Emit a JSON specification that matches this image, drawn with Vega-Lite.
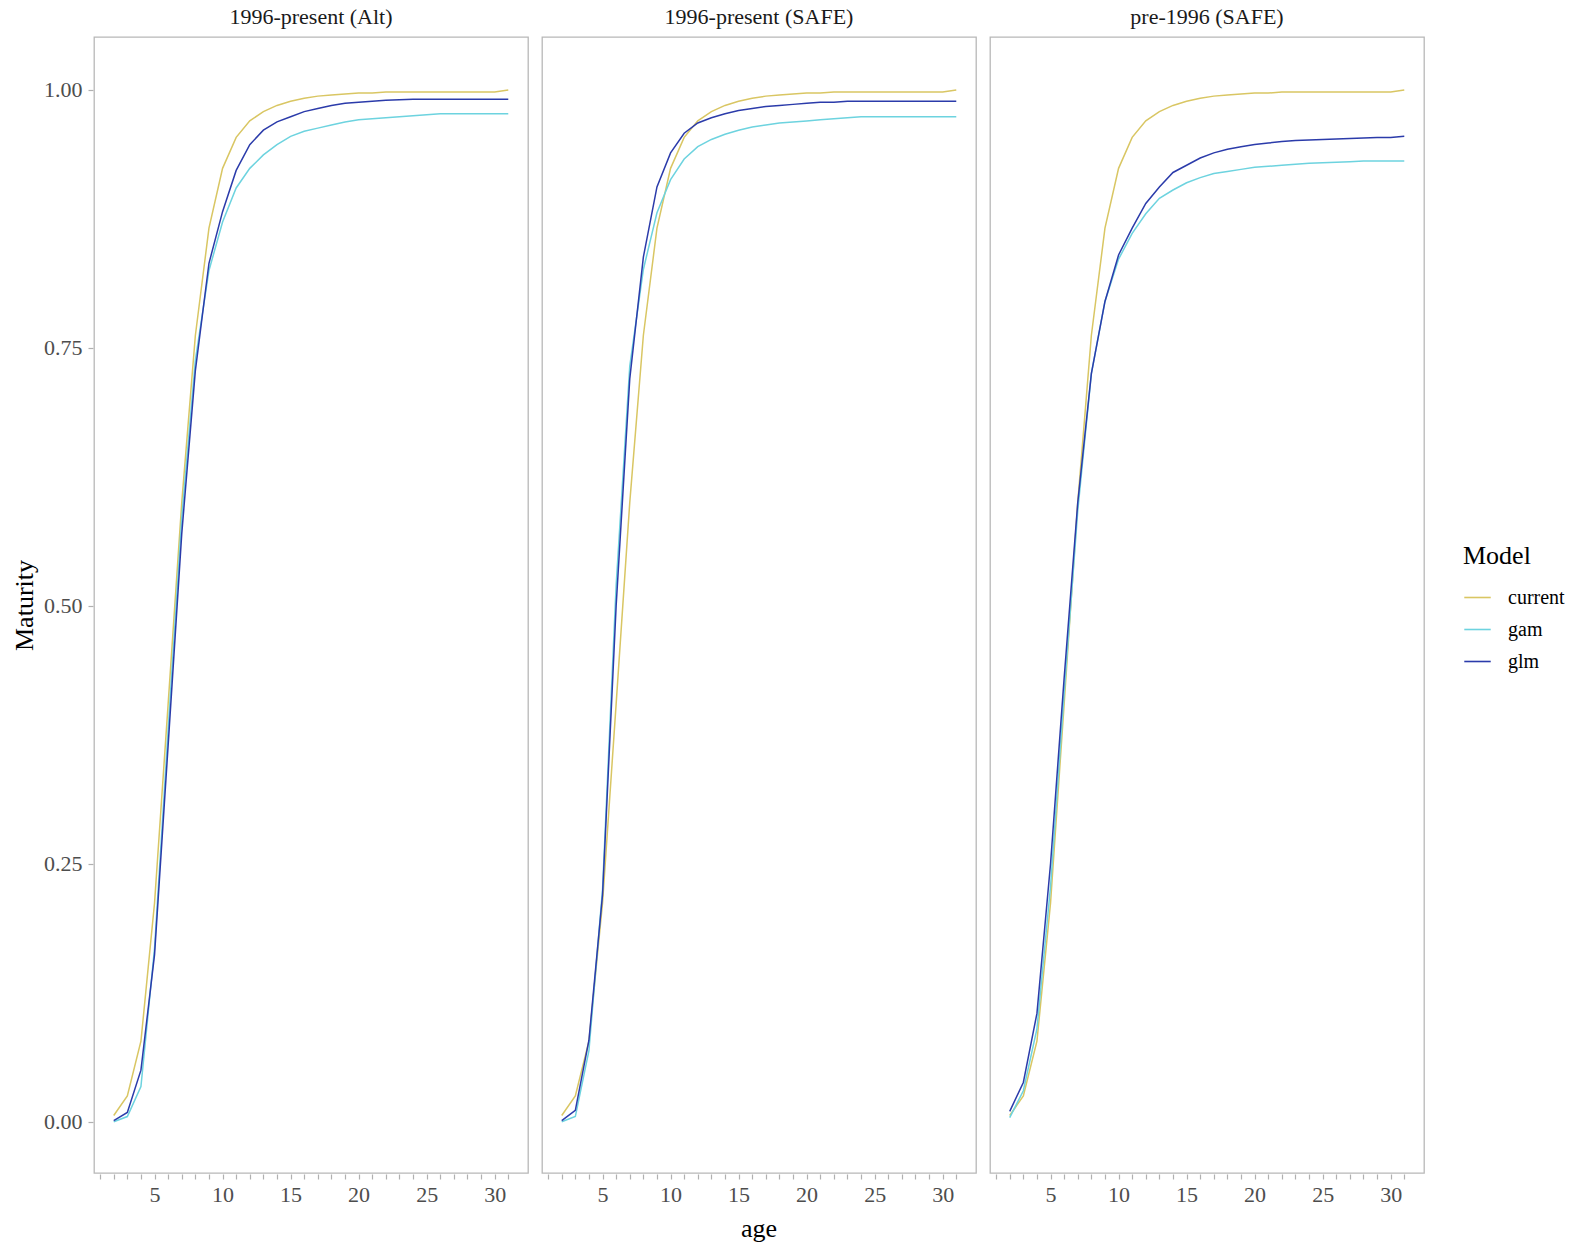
{
  "$schema": "https://vega.github.io/schema/vega-lite/v6.json",
  "background": "white",
  "padding": {"left": 11, "top": 6, "right": 5, "bottom": 5},
  "datasets": {
    "curves": [
      {"panel":"1996-present (Alt)","Model":"current","age":2,"Maturity":0.006},
      {"panel":"1996-present (Alt)","Model":"current","age":3,"Maturity":0.025},
      {"panel":"1996-present (Alt)","Model":"current","age":4,"Maturity":0.078},
      {"panel":"1996-present (Alt)","Model":"current","age":5,"Maturity":0.212},
      {"panel":"1996-present (Alt)","Model":"current","age":6,"Maturity":0.405},
      {"panel":"1996-present (Alt)","Model":"current","age":7,"Maturity":0.6},
      {"panel":"1996-present (Alt)","Model":"current","age":8,"Maturity":0.762},
      {"panel":"1996-present (Alt)","Model":"current","age":9,"Maturity":0.866},
      {"panel":"1996-present (Alt)","Model":"current","age":10,"Maturity":0.924},
      {"panel":"1996-present (Alt)","Model":"current","age":11,"Maturity":0.954},
      {"panel":"1996-present (Alt)","Model":"current","age":12,"Maturity":0.97},
      {"panel":"1996-present (Alt)","Model":"current","age":13,"Maturity":0.979},
      {"panel":"1996-present (Alt)","Model":"current","age":14,"Maturity":0.985},
      {"panel":"1996-present (Alt)","Model":"current","age":15,"Maturity":0.989},
      {"panel":"1996-present (Alt)","Model":"current","age":16,"Maturity":0.992},
      {"panel":"1996-present (Alt)","Model":"current","age":17,"Maturity":0.994},
      {"panel":"1996-present (Alt)","Model":"current","age":18,"Maturity":0.995},
      {"panel":"1996-present (Alt)","Model":"current","age":19,"Maturity":0.996},
      {"panel":"1996-present (Alt)","Model":"current","age":20,"Maturity":0.997},
      {"panel":"1996-present (Alt)","Model":"current","age":21,"Maturity":0.997},
      {"panel":"1996-present (Alt)","Model":"current","age":22,"Maturity":0.998},
      {"panel":"1996-present (Alt)","Model":"current","age":23,"Maturity":0.998},
      {"panel":"1996-present (Alt)","Model":"current","age":24,"Maturity":0.998},
      {"panel":"1996-present (Alt)","Model":"current","age":25,"Maturity":0.998},
      {"panel":"1996-present (Alt)","Model":"current","age":26,"Maturity":0.998},
      {"panel":"1996-present (Alt)","Model":"current","age":27,"Maturity":0.998},
      {"panel":"1996-present (Alt)","Model":"current","age":28,"Maturity":0.998},
      {"panel":"1996-present (Alt)","Model":"current","age":29,"Maturity":0.998},
      {"panel":"1996-present (Alt)","Model":"current","age":30,"Maturity":0.998},
      {"panel":"1996-present (Alt)","Model":"current","age":31,"Maturity":1.0},
      {"panel":"1996-present (Alt)","Model":"gam","age":2,"Maturity":0.0},
      {"panel":"1996-present (Alt)","Model":"gam","age":3,"Maturity":0.005},
      {"panel":"1996-present (Alt)","Model":"gam","age":4,"Maturity":0.034},
      {"panel":"1996-present (Alt)","Model":"gam","age":5,"Maturity":0.168},
      {"panel":"1996-present (Alt)","Model":"gam","age":6,"Maturity":0.38},
      {"panel":"1996-present (Alt)","Model":"gam","age":7,"Maturity":0.585},
      {"panel":"1996-present (Alt)","Model":"gam","age":8,"Maturity":0.738},
      {"panel":"1996-present (Alt)","Model":"gam","age":9,"Maturity":0.825},
      {"panel":"1996-present (Alt)","Model":"gam","age":10,"Maturity":0.872},
      {"panel":"1996-present (Alt)","Model":"gam","age":11,"Maturity":0.905},
      {"panel":"1996-present (Alt)","Model":"gam","age":12,"Maturity":0.924},
      {"panel":"1996-present (Alt)","Model":"gam","age":13,"Maturity":0.937},
      {"panel":"1996-present (Alt)","Model":"gam","age":14,"Maturity":0.947},
      {"panel":"1996-present (Alt)","Model":"gam","age":15,"Maturity":0.955},
      {"panel":"1996-present (Alt)","Model":"gam","age":16,"Maturity":0.96},
      {"panel":"1996-present (Alt)","Model":"gam","age":17,"Maturity":0.963},
      {"panel":"1996-present (Alt)","Model":"gam","age":18,"Maturity":0.966},
      {"panel":"1996-present (Alt)","Model":"gam","age":19,"Maturity":0.969},
      {"panel":"1996-present (Alt)","Model":"gam","age":20,"Maturity":0.971},
      {"panel":"1996-present (Alt)","Model":"gam","age":21,"Maturity":0.972},
      {"panel":"1996-present (Alt)","Model":"gam","age":22,"Maturity":0.973},
      {"panel":"1996-present (Alt)","Model":"gam","age":23,"Maturity":0.974},
      {"panel":"1996-present (Alt)","Model":"gam","age":24,"Maturity":0.975},
      {"panel":"1996-present (Alt)","Model":"gam","age":25,"Maturity":0.976},
      {"panel":"1996-present (Alt)","Model":"gam","age":26,"Maturity":0.977},
      {"panel":"1996-present (Alt)","Model":"gam","age":27,"Maturity":0.977},
      {"panel":"1996-present (Alt)","Model":"gam","age":28,"Maturity":0.977},
      {"panel":"1996-present (Alt)","Model":"gam","age":29,"Maturity":0.977},
      {"panel":"1996-present (Alt)","Model":"gam","age":30,"Maturity":0.977},
      {"panel":"1996-present (Alt)","Model":"gam","age":31,"Maturity":0.977},
      {"panel":"1996-present (Alt)","Model":"glm","age":2,"Maturity":0.001},
      {"panel":"1996-present (Alt)","Model":"glm","age":3,"Maturity":0.009},
      {"panel":"1996-present (Alt)","Model":"glm","age":4,"Maturity":0.05},
      {"panel":"1996-present (Alt)","Model":"glm","age":5,"Maturity":0.162},
      {"panel":"1996-present (Alt)","Model":"glm","age":6,"Maturity":0.365},
      {"panel":"1996-present (Alt)","Model":"glm","age":7,"Maturity":0.57},
      {"panel":"1996-present (Alt)","Model":"glm","age":8,"Maturity":0.728},
      {"panel":"1996-present (Alt)","Model":"glm","age":9,"Maturity":0.832},
      {"panel":"1996-present (Alt)","Model":"glm","age":10,"Maturity":0.882},
      {"panel":"1996-present (Alt)","Model":"glm","age":11,"Maturity":0.922},
      {"panel":"1996-present (Alt)","Model":"glm","age":12,"Maturity":0.947},
      {"panel":"1996-present (Alt)","Model":"glm","age":13,"Maturity":0.961},
      {"panel":"1996-present (Alt)","Model":"glm","age":14,"Maturity":0.969},
      {"panel":"1996-present (Alt)","Model":"glm","age":15,"Maturity":0.974},
      {"panel":"1996-present (Alt)","Model":"glm","age":16,"Maturity":0.979},
      {"panel":"1996-present (Alt)","Model":"glm","age":17,"Maturity":0.982},
      {"panel":"1996-present (Alt)","Model":"glm","age":18,"Maturity":0.985},
      {"panel":"1996-present (Alt)","Model":"glm","age":19,"Maturity":0.987},
      {"panel":"1996-present (Alt)","Model":"glm","age":20,"Maturity":0.988},
      {"panel":"1996-present (Alt)","Model":"glm","age":21,"Maturity":0.989},
      {"panel":"1996-present (Alt)","Model":"glm","age":22,"Maturity":0.99},
      {"panel":"1996-present (Alt)","Model":"glm","age":23,"Maturity":0.9905},
      {"panel":"1996-present (Alt)","Model":"glm","age":24,"Maturity":0.991},
      {"panel":"1996-present (Alt)","Model":"glm","age":25,"Maturity":0.991},
      {"panel":"1996-present (Alt)","Model":"glm","age":26,"Maturity":0.991},
      {"panel":"1996-present (Alt)","Model":"glm","age":27,"Maturity":0.991},
      {"panel":"1996-present (Alt)","Model":"glm","age":28,"Maturity":0.991},
      {"panel":"1996-present (Alt)","Model":"glm","age":29,"Maturity":0.991},
      {"panel":"1996-present (Alt)","Model":"glm","age":30,"Maturity":0.991},
      {"panel":"1996-present (Alt)","Model":"glm","age":31,"Maturity":0.991},
      {"panel":"1996-present (SAFE)","Model":"current","age":2,"Maturity":0.006},
      {"panel":"1996-present (SAFE)","Model":"current","age":3,"Maturity":0.025},
      {"panel":"1996-present (SAFE)","Model":"current","age":4,"Maturity":0.078},
      {"panel":"1996-present (SAFE)","Model":"current","age":5,"Maturity":0.212},
      {"panel":"1996-present (SAFE)","Model":"current","age":6,"Maturity":0.405},
      {"panel":"1996-present (SAFE)","Model":"current","age":7,"Maturity":0.6},
      {"panel":"1996-present (SAFE)","Model":"current","age":8,"Maturity":0.762},
      {"panel":"1996-present (SAFE)","Model":"current","age":9,"Maturity":0.866},
      {"panel":"1996-present (SAFE)","Model":"current","age":10,"Maturity":0.924},
      {"panel":"1996-present (SAFE)","Model":"current","age":11,"Maturity":0.954},
      {"panel":"1996-present (SAFE)","Model":"current","age":12,"Maturity":0.97},
      {"panel":"1996-present (SAFE)","Model":"current","age":13,"Maturity":0.979},
      {"panel":"1996-present (SAFE)","Model":"current","age":14,"Maturity":0.985},
      {"panel":"1996-present (SAFE)","Model":"current","age":15,"Maturity":0.989},
      {"panel":"1996-present (SAFE)","Model":"current","age":16,"Maturity":0.992},
      {"panel":"1996-present (SAFE)","Model":"current","age":17,"Maturity":0.994},
      {"panel":"1996-present (SAFE)","Model":"current","age":18,"Maturity":0.995},
      {"panel":"1996-present (SAFE)","Model":"current","age":19,"Maturity":0.996},
      {"panel":"1996-present (SAFE)","Model":"current","age":20,"Maturity":0.997},
      {"panel":"1996-present (SAFE)","Model":"current","age":21,"Maturity":0.997},
      {"panel":"1996-present (SAFE)","Model":"current","age":22,"Maturity":0.998},
      {"panel":"1996-present (SAFE)","Model":"current","age":23,"Maturity":0.998},
      {"panel":"1996-present (SAFE)","Model":"current","age":24,"Maturity":0.998},
      {"panel":"1996-present (SAFE)","Model":"current","age":25,"Maturity":0.998},
      {"panel":"1996-present (SAFE)","Model":"current","age":26,"Maturity":0.998},
      {"panel":"1996-present (SAFE)","Model":"current","age":27,"Maturity":0.998},
      {"panel":"1996-present (SAFE)","Model":"current","age":28,"Maturity":0.998},
      {"panel":"1996-present (SAFE)","Model":"current","age":29,"Maturity":0.998},
      {"panel":"1996-present (SAFE)","Model":"current","age":30,"Maturity":0.998},
      {"panel":"1996-present (SAFE)","Model":"current","age":31,"Maturity":1.0},
      {"panel":"1996-present (SAFE)","Model":"gam","age":2,"Maturity":0.0},
      {"panel":"1996-present (SAFE)","Model":"gam","age":3,"Maturity":0.005},
      {"panel":"1996-present (SAFE)","Model":"gam","age":4,"Maturity":0.069},
      {"panel":"1996-present (SAFE)","Model":"gam","age":5,"Maturity":0.225},
      {"panel":"1996-present (SAFE)","Model":"gam","age":6,"Maturity":0.52},
      {"panel":"1996-present (SAFE)","Model":"gam","age":7,"Maturity":0.732},
      {"panel":"1996-present (SAFE)","Model":"gam","age":8,"Maturity":0.826},
      {"panel":"1996-present (SAFE)","Model":"gam","age":9,"Maturity":0.881},
      {"panel":"1996-present (SAFE)","Model":"gam","age":10,"Maturity":0.913},
      {"panel":"1996-present (SAFE)","Model":"gam","age":11,"Maturity":0.933},
      {"panel":"1996-present (SAFE)","Model":"gam","age":12,"Maturity":0.945},
      {"panel":"1996-present (SAFE)","Model":"gam","age":13,"Maturity":0.952},
      {"panel":"1996-present (SAFE)","Model":"gam","age":14,"Maturity":0.957},
      {"panel":"1996-present (SAFE)","Model":"gam","age":15,"Maturity":0.961},
      {"panel":"1996-present (SAFE)","Model":"gam","age":16,"Maturity":0.964},
      {"panel":"1996-present (SAFE)","Model":"gam","age":17,"Maturity":0.966},
      {"panel":"1996-present (SAFE)","Model":"gam","age":18,"Maturity":0.968},
      {"panel":"1996-present (SAFE)","Model":"gam","age":19,"Maturity":0.969},
      {"panel":"1996-present (SAFE)","Model":"gam","age":20,"Maturity":0.97},
      {"panel":"1996-present (SAFE)","Model":"gam","age":21,"Maturity":0.971},
      {"panel":"1996-present (SAFE)","Model":"gam","age":22,"Maturity":0.972},
      {"panel":"1996-present (SAFE)","Model":"gam","age":23,"Maturity":0.973},
      {"panel":"1996-present (SAFE)","Model":"gam","age":24,"Maturity":0.974},
      {"panel":"1996-present (SAFE)","Model":"gam","age":25,"Maturity":0.974},
      {"panel":"1996-present (SAFE)","Model":"gam","age":26,"Maturity":0.974},
      {"panel":"1996-present (SAFE)","Model":"gam","age":27,"Maturity":0.974},
      {"panel":"1996-present (SAFE)","Model":"gam","age":28,"Maturity":0.974},
      {"panel":"1996-present (SAFE)","Model":"gam","age":29,"Maturity":0.974},
      {"panel":"1996-present (SAFE)","Model":"gam","age":30,"Maturity":0.974},
      {"panel":"1996-present (SAFE)","Model":"gam","age":31,"Maturity":0.974},
      {"panel":"1996-present (SAFE)","Model":"glm","age":2,"Maturity":0.001},
      {"panel":"1996-present (SAFE)","Model":"glm","age":3,"Maturity":0.011},
      {"panel":"1996-present (SAFE)","Model":"glm","age":4,"Maturity":0.079},
      {"panel":"1996-present (SAFE)","Model":"glm","age":5,"Maturity":0.22},
      {"panel":"1996-present (SAFE)","Model":"glm","age":6,"Maturity":0.5},
      {"panel":"1996-present (SAFE)","Model":"glm","age":7,"Maturity":0.72},
      {"panel":"1996-present (SAFE)","Model":"glm","age":8,"Maturity":0.838},
      {"panel":"1996-present (SAFE)","Model":"glm","age":9,"Maturity":0.906},
      {"panel":"1996-present (SAFE)","Model":"glm","age":10,"Maturity":0.939},
      {"panel":"1996-present (SAFE)","Model":"glm","age":11,"Maturity":0.958},
      {"panel":"1996-present (SAFE)","Model":"glm","age":12,"Maturity":0.968},
      {"panel":"1996-present (SAFE)","Model":"glm","age":13,"Maturity":0.973},
      {"panel":"1996-present (SAFE)","Model":"glm","age":14,"Maturity":0.977},
      {"panel":"1996-present (SAFE)","Model":"glm","age":15,"Maturity":0.98},
      {"panel":"1996-present (SAFE)","Model":"glm","age":16,"Maturity":0.982},
      {"panel":"1996-present (SAFE)","Model":"glm","age":17,"Maturity":0.984},
      {"panel":"1996-present (SAFE)","Model":"glm","age":18,"Maturity":0.985},
      {"panel":"1996-present (SAFE)","Model":"glm","age":19,"Maturity":0.986},
      {"panel":"1996-present (SAFE)","Model":"glm","age":20,"Maturity":0.987},
      {"panel":"1996-present (SAFE)","Model":"glm","age":21,"Maturity":0.988},
      {"panel":"1996-present (SAFE)","Model":"glm","age":22,"Maturity":0.988},
      {"panel":"1996-present (SAFE)","Model":"glm","age":23,"Maturity":0.989},
      {"panel":"1996-present (SAFE)","Model":"glm","age":24,"Maturity":0.989},
      {"panel":"1996-present (SAFE)","Model":"glm","age":25,"Maturity":0.989},
      {"panel":"1996-present (SAFE)","Model":"glm","age":26,"Maturity":0.989},
      {"panel":"1996-present (SAFE)","Model":"glm","age":27,"Maturity":0.989},
      {"panel":"1996-present (SAFE)","Model":"glm","age":28,"Maturity":0.989},
      {"panel":"1996-present (SAFE)","Model":"glm","age":29,"Maturity":0.989},
      {"panel":"1996-present (SAFE)","Model":"glm","age":30,"Maturity":0.989},
      {"panel":"1996-present (SAFE)","Model":"glm","age":31,"Maturity":0.989},
      {"panel":"pre-1996 (SAFE)","Model":"current","age":2,"Maturity":0.006},
      {"panel":"pre-1996 (SAFE)","Model":"current","age":3,"Maturity":0.025},
      {"panel":"pre-1996 (SAFE)","Model":"current","age":4,"Maturity":0.078},
      {"panel":"pre-1996 (SAFE)","Model":"current","age":5,"Maturity":0.212},
      {"panel":"pre-1996 (SAFE)","Model":"current","age":6,"Maturity":0.405},
      {"panel":"pre-1996 (SAFE)","Model":"current","age":7,"Maturity":0.6},
      {"panel":"pre-1996 (SAFE)","Model":"current","age":8,"Maturity":0.762},
      {"panel":"pre-1996 (SAFE)","Model":"current","age":9,"Maturity":0.866},
      {"panel":"pre-1996 (SAFE)","Model":"current","age":10,"Maturity":0.924},
      {"panel":"pre-1996 (SAFE)","Model":"current","age":11,"Maturity":0.954},
      {"panel":"pre-1996 (SAFE)","Model":"current","age":12,"Maturity":0.97},
      {"panel":"pre-1996 (SAFE)","Model":"current","age":13,"Maturity":0.979},
      {"panel":"pre-1996 (SAFE)","Model":"current","age":14,"Maturity":0.985},
      {"panel":"pre-1996 (SAFE)","Model":"current","age":15,"Maturity":0.989},
      {"panel":"pre-1996 (SAFE)","Model":"current","age":16,"Maturity":0.992},
      {"panel":"pre-1996 (SAFE)","Model":"current","age":17,"Maturity":0.994},
      {"panel":"pre-1996 (SAFE)","Model":"current","age":18,"Maturity":0.995},
      {"panel":"pre-1996 (SAFE)","Model":"current","age":19,"Maturity":0.996},
      {"panel":"pre-1996 (SAFE)","Model":"current","age":20,"Maturity":0.997},
      {"panel":"pre-1996 (SAFE)","Model":"current","age":21,"Maturity":0.997},
      {"panel":"pre-1996 (SAFE)","Model":"current","age":22,"Maturity":0.998},
      {"panel":"pre-1996 (SAFE)","Model":"current","age":23,"Maturity":0.998},
      {"panel":"pre-1996 (SAFE)","Model":"current","age":24,"Maturity":0.998},
      {"panel":"pre-1996 (SAFE)","Model":"current","age":25,"Maturity":0.998},
      {"panel":"pre-1996 (SAFE)","Model":"current","age":26,"Maturity":0.998},
      {"panel":"pre-1996 (SAFE)","Model":"current","age":27,"Maturity":0.998},
      {"panel":"pre-1996 (SAFE)","Model":"current","age":28,"Maturity":0.998},
      {"panel":"pre-1996 (SAFE)","Model":"current","age":29,"Maturity":0.998},
      {"panel":"pre-1996 (SAFE)","Model":"current","age":30,"Maturity":0.998},
      {"panel":"pre-1996 (SAFE)","Model":"current","age":31,"Maturity":1.0},
      {"panel":"pre-1996 (SAFE)","Model":"gam","age":2,"Maturity":0.004},
      {"panel":"pre-1996 (SAFE)","Model":"gam","age":3,"Maturity":0.03},
      {"panel":"pre-1996 (SAFE)","Model":"gam","age":4,"Maturity":0.09},
      {"panel":"pre-1996 (SAFE)","Model":"gam","age":5,"Maturity":0.228},
      {"panel":"pre-1996 (SAFE)","Model":"gam","age":6,"Maturity":0.415},
      {"panel":"pre-1996 (SAFE)","Model":"gam","age":7,"Maturity":0.592},
      {"panel":"pre-1996 (SAFE)","Model":"gam","age":8,"Maturity":0.725},
      {"panel":"pre-1996 (SAFE)","Model":"gam","age":9,"Maturity":0.795},
      {"panel":"pre-1996 (SAFE)","Model":"gam","age":10,"Maturity":0.836},
      {"panel":"pre-1996 (SAFE)","Model":"gam","age":11,"Maturity":0.861},
      {"panel":"pre-1996 (SAFE)","Model":"gam","age":12,"Maturity":0.88},
      {"panel":"pre-1996 (SAFE)","Model":"gam","age":13,"Maturity":0.895},
      {"panel":"pre-1996 (SAFE)","Model":"gam","age":14,"Maturity":0.903},
      {"panel":"pre-1996 (SAFE)","Model":"gam","age":15,"Maturity":0.91},
      {"panel":"pre-1996 (SAFE)","Model":"gam","age":16,"Maturity":0.915},
      {"panel":"pre-1996 (SAFE)","Model":"gam","age":17,"Maturity":0.919},
      {"panel":"pre-1996 (SAFE)","Model":"gam","age":18,"Maturity":0.921},
      {"panel":"pre-1996 (SAFE)","Model":"gam","age":19,"Maturity":0.923},
      {"panel":"pre-1996 (SAFE)","Model":"gam","age":20,"Maturity":0.925},
      {"panel":"pre-1996 (SAFE)","Model":"gam","age":21,"Maturity":0.926},
      {"panel":"pre-1996 (SAFE)","Model":"gam","age":22,"Maturity":0.927},
      {"panel":"pre-1996 (SAFE)","Model":"gam","age":23,"Maturity":0.928},
      {"panel":"pre-1996 (SAFE)","Model":"gam","age":24,"Maturity":0.929},
      {"panel":"pre-1996 (SAFE)","Model":"gam","age":25,"Maturity":0.9295},
      {"panel":"pre-1996 (SAFE)","Model":"gam","age":26,"Maturity":0.93},
      {"panel":"pre-1996 (SAFE)","Model":"gam","age":27,"Maturity":0.9305},
      {"panel":"pre-1996 (SAFE)","Model":"gam","age":28,"Maturity":0.931},
      {"panel":"pre-1996 (SAFE)","Model":"gam","age":29,"Maturity":0.931},
      {"panel":"pre-1996 (SAFE)","Model":"gam","age":30,"Maturity":0.931},
      {"panel":"pre-1996 (SAFE)","Model":"gam","age":31,"Maturity":0.931},
      {"panel":"pre-1996 (SAFE)","Model":"glm","age":2,"Maturity":0.01},
      {"panel":"pre-1996 (SAFE)","Model":"glm","age":3,"Maturity":0.038},
      {"panel":"pre-1996 (SAFE)","Model":"glm","age":4,"Maturity":0.105},
      {"panel":"pre-1996 (SAFE)","Model":"glm","age":5,"Maturity":0.25},
      {"panel":"pre-1996 (SAFE)","Model":"glm","age":6,"Maturity":0.43},
      {"panel":"pre-1996 (SAFE)","Model":"glm","age":7,"Maturity":0.6},
      {"panel":"pre-1996 (SAFE)","Model":"glm","age":8,"Maturity":0.725},
      {"panel":"pre-1996 (SAFE)","Model":"glm","age":9,"Maturity":0.795},
      {"panel":"pre-1996 (SAFE)","Model":"glm","age":10,"Maturity":0.84},
      {"panel":"pre-1996 (SAFE)","Model":"glm","age":11,"Maturity":0.866},
      {"panel":"pre-1996 (SAFE)","Model":"glm","age":12,"Maturity":0.89},
      {"panel":"pre-1996 (SAFE)","Model":"glm","age":13,"Maturity":0.906},
      {"panel":"pre-1996 (SAFE)","Model":"glm","age":14,"Maturity":0.92},
      {"panel":"pre-1996 (SAFE)","Model":"glm","age":15,"Maturity":0.927},
      {"panel":"pre-1996 (SAFE)","Model":"glm","age":16,"Maturity":0.934},
      {"panel":"pre-1996 (SAFE)","Model":"glm","age":17,"Maturity":0.939},
      {"panel":"pre-1996 (SAFE)","Model":"glm","age":18,"Maturity":0.9425},
      {"panel":"pre-1996 (SAFE)","Model":"glm","age":19,"Maturity":0.945},
      {"panel":"pre-1996 (SAFE)","Model":"glm","age":20,"Maturity":0.947},
      {"panel":"pre-1996 (SAFE)","Model":"glm","age":21,"Maturity":0.9485},
      {"panel":"pre-1996 (SAFE)","Model":"glm","age":22,"Maturity":0.95},
      {"panel":"pre-1996 (SAFE)","Model":"glm","age":23,"Maturity":0.951},
      {"panel":"pre-1996 (SAFE)","Model":"glm","age":24,"Maturity":0.9515},
      {"panel":"pre-1996 (SAFE)","Model":"glm","age":25,"Maturity":0.952},
      {"panel":"pre-1996 (SAFE)","Model":"glm","age":26,"Maturity":0.9525},
      {"panel":"pre-1996 (SAFE)","Model":"glm","age":27,"Maturity":0.953},
      {"panel":"pre-1996 (SAFE)","Model":"glm","age":28,"Maturity":0.9535},
      {"panel":"pre-1996 (SAFE)","Model":"glm","age":29,"Maturity":0.954},
      {"panel":"pre-1996 (SAFE)","Model":"glm","age":30,"Maturity":0.954},
      {"panel":"pre-1996 (SAFE)","Model":"glm","age":31,"Maturity":0.955}
    ]
  },
  "data": {"name": "curves"},
  "facet": {
    "column": {
      "field": "panel",
      "type": "nominal",
      "sort": ["1996-present (Alt)", "1996-present (SAFE)", "pre-1996 (SAFE)"],
      "title": "age",
      "header": {
        "titleOrient": "bottom",
        "labelOrient": "top",
        "labelFont": "Liberation Serif",
        "labelFontSize": 22,
        "labelColor": "#1A1A1A",
        "labelPadding": 7,
        "titleFont": "Liberation Serif",
        "titleFontSize": 26,
        "titleFontWeight": "normal",
        "titleColor": "#000000",
        "titlePadding": 1
      }
    }
  },
  "spacing": 12,
  "spec": {
    "width": 434,
    "height": 1136,
    "mark": {"type": "line", "strokeWidth": 1.5},
    "encoding": {
      "x": {
        "field": "age",
        "type": "quantitative",
        "scale": {"domain": [0.55, 32.45], "nice": false, "zero": false},
        "axis": {
          "title": null,
          "values": [1,2,3,4,5,6,7,8,9,10,11,12,13,14,15,16,17,18,19,20,21,22,23,24,25,26,27,28,29,30,31],
          "labelExpr": "datum.value % 5 === 0 ? datum.label : ''",
          "labelPadding": 5,
          "labelFlush": false,
          "labelOverlap": false
        }
      },
      "y": {
        "field": "Maturity",
        "type": "quantitative",
        "scale": {"domain": [-0.0497, 1.0513], "nice": false, "zero": false},
        "axis": {
          "title": "Maturity",
          "values": [0, 0.25, 0.5, 0.75, 1],
          "format": ".2f",
          "labelPadding": 6,
          "titlePadding": 6
        }
      },
      "color": {
        "field": "Model",
        "type": "nominal",
        "scale": {"domain": ["current", "gam", "glm"], "range": ["#D9C663", "#6DD3DF", "#2B3BAA"]},
        "legend": {
          "title": "Model",
          "orient": "none",
          "legendX": 1369,
          "legendY": 506
        }
      }
    }
  },
  "config": {
    "font": "Liberation Serif",
    "view": {"stroke": "#B8B8B8", "strokeWidth": 1.3},
    "axis": {
      "grid": false,
      "domain": false,
      "ticks": true,
      "tickColor": "#B0B0B0",
      "tickSize": 5,
      "tickWidth": 1.2,
      "labelFont": "Liberation Serif",
      "labelFontSize": 22,
      "labelColor": "#4D4D4D",
      "titleFont": "Liberation Serif",
      "titleFontSize": 26,
      "titleFontWeight": "normal",
      "titleColor": "#000000"
    },
    "legend": {
      "titleFont": "Liberation Serif",
      "titleFontSize": 26,
      "titleFontWeight": "normal",
      "titleColor": "#000000",
      "titlePadding": 14,
      "labelFont": "Liberation Serif",
      "labelFontSize": 20,
      "labelColor": "#000000",
      "labelOffset": 16,
      "symbolType": "stroke",
      "symbolStrokeWidth": 1.6,
      "symbolSize": 700,
      "rowPadding": 7,
      "padding": 0
    }
  }
}
